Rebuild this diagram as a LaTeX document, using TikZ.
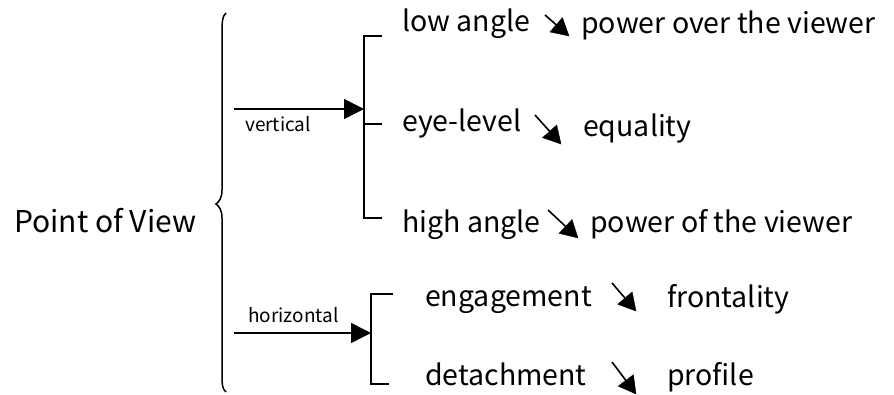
\documentclass[tikz,border=0pt]{standalone}
\usepackage{fontspec}
\setmainfont{Noto Sans CJK SC}
\usetikzlibrary{arrows.meta,calc}
\tikzset{
  lbl/.style={anchor=base west, inner sep=0pt, font=\fontsize{28.5}{32}\selectfont},
  small/.style={anchor=base west, inner sep=0pt, font=\fontsize{19}{22}\selectfont},
  bigarrow/.style={line width=1.5pt, -{Triangle[length=20pt,width=20pt]}},
  diagline/.style={line width=1.6pt},
  diaghead/.style={fill=black, draw=black, line width=0.4pt, line join=miter},
  bracket/.style={line width=1.6pt},
}
\newcommand{\mydiag}[2]{%
  \coordinate (dB) at ($(#2)!17pt!(#1)$);
  \draw[diagline] (#1) -- (dB);
  \fill[diaghead] (#2) -- ($(dB)!9.5pt!90:(#2)$) -- ($(dB)!9.5pt!-90:(#2)$) -- cycle;
}
\begin{document}
\begin{tikzpicture}[x=1pt,y=-1pt]
\useasboundingbox (0,0) rectangle (894,395);
% root
\node[lbl, font=\fontsize{30}{34}\selectfont] (pov) at (14,233) {Point of View};
% brace
\draw[bracket, line width=1.5pt] (226,13) .. controls (222,16) and (222,24) .. (222,34)
  -- (222,190) .. controls (222,198) and (219,202) .. (216,204)
  .. controls (219,206) and (222,210) .. (222,218)
  -- (222,372) .. controls (222,384) and (222,389) .. (226,392);
% vertical branch
\coordinate (vs) at (234,109);
\coordinate (vb) at (364,109);
\draw[bigarrow] (vs) -- (vb);
\node[small] (vlab) at (245,132) {vertical};
\draw[bracket] (382,36) -| (364,218) -- (382,218);
\coordinate (vm) at (364,124);
\draw[bracket] (vm) -- (382,124);
% horizontal branch
\coordinate (hs) at (234,333);
\coordinate (hb) at (371,333);
\draw[bigarrow] (hs) -- (hb);
\node[small] (hlab) at (248,323) {horizontal};
\draw[bracket] (393,294) -| (371,384) -- (389,384);
% rows
\node[lbl] (low) at (402,32) {low angle};
\node[lbl] (lowr) at (581,34) {power over the viewer};
\coordinate (a1) at (545,15); \coordinate (t1) at (569,36);
\mydiag{a1}{t1}

\node[lbl] (eye) at (402,132) {eye-level};
\node[lbl] (eyer) at (583,137) {equality};
\coordinate (a2) at (535,115); \coordinate (t2) at (561,144);
\mydiag{a2}{t2}

\node[lbl] (high) at (402,233) {high angle};
\node[lbl] (highr) at (590,233) {power of the viewer};
\coordinate (a3) at (548,210); \coordinate (t3) at (578,238);
\mydiag{a3}{t3}

\node[lbl] (eng) at (425,306) {engagement};
\node[lbl] (engr) at (667,308) {frontality};
\coordinate (a4) at (612,283); \coordinate (t4) at (636,311);
\mydiag{a4}{t4}

\node[lbl] (det) at (425,385) {detachment};
\node[lbl] (detr) at (667,385) {profile};
\coordinate (a5) at (612,362); \coordinate (t5) at (636,394);
\mydiag{a5}{t5}
\end{tikzpicture}
\end{document}
